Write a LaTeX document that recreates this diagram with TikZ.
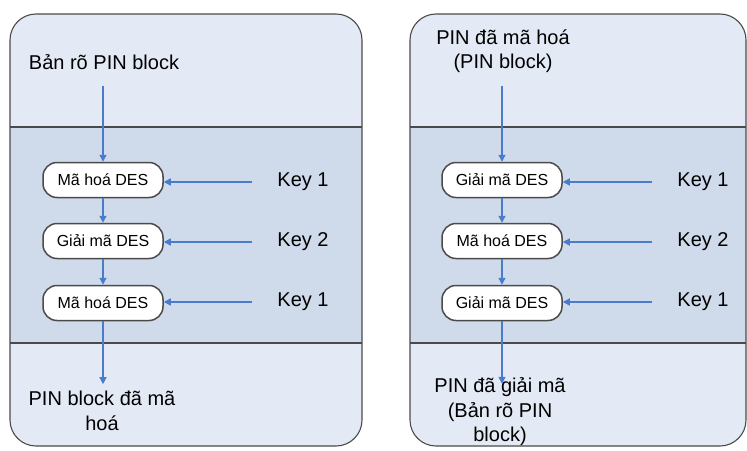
\documentclass[tikz,border=0pt]{standalone}
\usepackage{fontspec}
\setmainfont{Liberation Sans}
\usetikzlibrary{arrows.meta}

\definecolor{paneLight}{HTML}{E4EAF5}
\definecolor{paneDark}{HTML}{CFDAEB}
\definecolor{flowBlue}{HTML}{4A7CCB}
\definecolor{edgeGray}{HTML}{4A4A4A}

\tikzset{
	desbox/.style = {draw = edgeGray, fill = white, line width = 1.5pt, rounded corners = 14pt,
		minimum width = 120pt, minimum height = 35pt, inner sep = 0pt, font = \fontsize{16}{18}\selectfont},
	keylbl/.style = {font = \fontsize{20}{24}\selectfont, inner sep = 0pt},
	txtlbl/.style = {font = \fontsize{20}{24.5}\selectfont, align = center, inner sep = 2pt},
	flow/.style = {draw = flowBlue, line width = 1.3pt, -{Triangle[length = 7pt, width = 7pt]}},
	pane/.style = {draw = edgeGray, line width = 1.1pt}
}

\begin{document}
\begin{tikzpicture}[x = 1pt, y = -1pt]

	% Canvas
	
	\useasboundingbox (0, 0) rectangle (747, 450);

	% Panels
	
	\foreach \L/\R in {10/362, 410/746} {
		\fill [paneLight, rounded corners = 26pt] (\L, 14) rectangle (\R, 446);
		\fill [paneDark] (\L, 127) rectangle (\R, 343);
		\draw [pane, rounded corners = 26pt] (\L, 14) rectangle (\R, 446);
		\draw [pane] (\L, 127) -- (\R, 127);
		\draw [pane] (\L, 343) -- (\R, 343);
	}

	% Encryption (left)
	
	\node [txtlbl] (ein) at (104, 62) {Bản rõ PIN block};
	\node [desbox] (e1) at (103, 180) {Mã hoá DES};
	\node [desbox] (e2) at (103, 241) {Giải mã DES};
	\node [desbox] (e3) at (103, 303) {Mã hoá DES};
	\node [keylbl] (ek1) at (303, 182) {Key 1};
	\node [keylbl] (ek2) at (303, 242) {Key 2};
	\node [keylbl] (ek3) at (303, 302) {Key 1};
	\node [txtlbl] (eout) at (102, 411) {PIN block đã mã\\hoá};

	\draw [flow, shorten < = 14pt] (e1.north |- ein.south) -- (e1.north);
	\draw [flow] (e1) -- (e2);
	\draw [flow] (e2) -- (e3);
	\draw [flow, shorten > = 5pt] (e3) -- (e3 |- eout.north);
	\foreach \k/\b in {ek1/e1, ek2/e2, ek3/e3}
		\draw [flow, shorten < = 25pt] (\k.west) -- (\b.east |- \k.west);

	% Decryption (right)
	
	\node [txtlbl] (din) at (503, 51) {PIN đã mã hoá\\(PIN block)};
	\node [desbox] (d1) at (502, 180) {Giải mã DES};
	\node [desbox] (d2) at (502, 241) {Mã hoá DES};
	\node [desbox] (d3) at (502, 303) {Giải mã DES};
	\node [keylbl] (dk1) at (703, 182) {Key 1};
	\node [keylbl] (dk2) at (703, 242) {Key 2};
	\node [keylbl] (dk3) at (703, 302) {Key 1};
	\node [txtlbl] (dout) at (500, 412) {PIN đã giải mã\\(Bản rõ PIN\\block)};

	\draw [flow, shorten < = 11pt] (d1.north |- din.south) -- (d1.north);
	\draw [flow] (d1) -- (d2);
	\draw [flow] (d2) -- (d3);
	\draw [flow, shorten > = -8pt] (d3) -- (d3 |- dout.north);
	\foreach \k/\b in {dk1/d1, dk2/d2, dk3/d3}
		\draw [flow, shorten < = 25pt] (\k.west) -- (\b.east |- \k.west);

\end{tikzpicture}
\end{document}
